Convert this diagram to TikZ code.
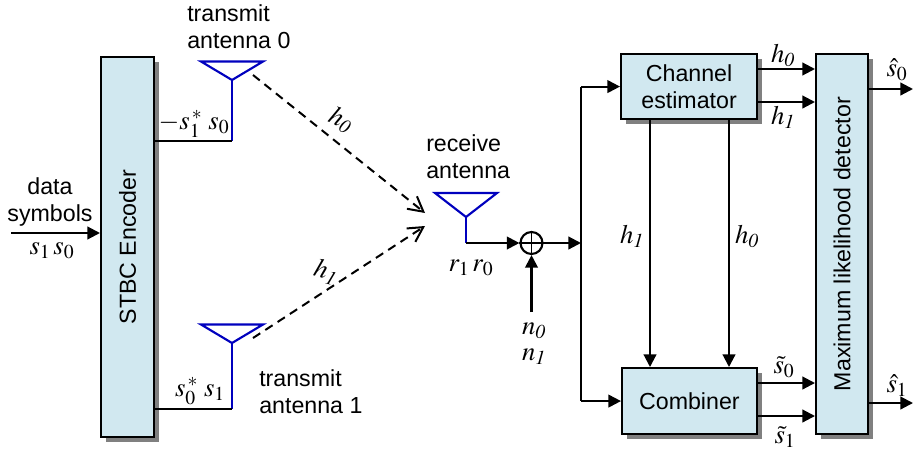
\documentclass[tikz,border=0pt]{standalone}
\usepackage{mathptmx}
\usepackage{fontspec}
\setmainfont{Liberation Sans}
\usetikzlibrary{arrows.meta,shadows}

\definecolor{boxfill}{RGB}{209,232,240}
\definecolor{antblue}{RGB}{0,0,190}

\begin{document}
\begin{tikzpicture}[
  x=0.75pt, y=-0.75pt,
  every node/.style={font=\fontsize{17.4}{20.5}\selectfont, align=center, inner sep=0pt},
  block/.style={draw=black, line width=1.6pt, fill=boxfill, anchor=north west,
    copy shadow={shadow xshift=4pt, shadow yshift=-4pt, draw=none, fill=black!50}},
  tag/.style={anchor=west, align=left},
  sym/.style={font=\fontsize{20}{24}\selectfont},
  line/.style={draw=black, line width=1.6pt},
  arrow/.style={line, -{Triangle[length=9.5pt,width=9.5pt]}},
  air/.style={draw=black, line width=1.5pt, dash pattern=on 6.5pt off 4.5pt, -{Straight Barb[length=11pt,width=12pt]}},
  antenna/.style={draw=antblue, line width=1.6pt, line join=miter}
]
\useasboundingbox (0,0) rectangle (913,450);

% blocks
\node[block, minimum width=39.75pt, minimum height=285pt] (stbc) at (100,56) {};
\node[rotate=90] (stbclabel) at (stbc.center) {STBC Encoder};
\node[block, minimum width=102pt, minimum height=48.75pt] (est) at (620,53) {Channel\\estimator};
\node[block, minimum width=101pt, minimum height=49.5pt] (comb) at (621,367) {Combiner};
\node[block, minimum width=39pt, minimum height=285pt] (mld) at (815,53) {};
\node[rotate=90] (mldlabel) at (mld.center) {Maximum likelihood detector};

% antennas
\coordinate (ant0) at (232,80);
\coordinate (ant0foot) at (232,141);
\coordinate (ant1) at (232,343);
\coordinate (ant1foot) at (232,409);
\coordinate (rx) at (466,217);
\coordinate (rxfoot) at (466,243);
\foreach \a/\foot/\d in {ant0/ant0foot/18.5, ant1/ant1foot/18.5, rx/rxfoot/24} {
  \draw[antenna] (\a) -- ++(-31,-\d) -- ++(62,0) -- cycle;
  \draw[antenna] (\a) -- (\foot);
}
\draw[line] (stbc.east |- ant0foot) -- (ant0foot);
\draw[line] (stbc.east |- ant1foot) -- (ant1foot);

% adder
\node[circle, draw=black, line width=1.6pt, minimum size=16.5pt] (add) at (531.5,243) {};
\draw[line width=1pt] (add.north) -- (add.south) (add.west) -- (add.east);

% free ends
\coordinate (in) at (11,233);
\coordinate (noise) at (531.5,312);
\coordinate (tee) at (581,243);
\coordinate (air0) at (253,75);
\coordinate (air1) at (253,338);
\coordinate (rx0) at (425,213);
\coordinate (rx1) at (425,226);
\coordinate (out0) at (913,89);
\coordinate (out1) at (913,403);

% connectors
\draw[arrow] (in) -- (in -| stbc.west);
\draw[air] (air0) -- (rx0);
\draw[air] (air1) -- (rx1);
\draw[arrow] (rxfoot) -- (add.west);
\draw[arrow] (noise) -- (add.south);
\draw[arrow] (add.east) -- (tee);
\draw[arrow] (tee |- est.west) -- (est.west);
\draw[arrow] (tee |- comb.west) -- (comb.west);
\draw[line] (tee |- est.west) -- (tee |- comb.west);
\draw[arrow] (est.south -| 650,0) -- (comb.north -| 650,0);
\draw[arrow] (est.south -| 729,0) -- (comb.north -| 729,0);
\draw[arrow] (est.east |- 0,69) -- (mld.west |- 0,69);
\draw[arrow] (est.east |- 0,102) -- (mld.west |- 0,102);
\draw[arrow] (comb.east |- 0,383) -- (mld.west |- 0,383);
\draw[arrow] (comb.east |- 0,416) -- (mld.west |- 0,416);
\draw[arrow] (mld.east |- out0) -- (out0);
\draw[arrow] (mld.east |- out1) -- (out1);

% labels
\node (datalabel) at (50,202) {data\\symbols};
\node[tag] (tx0label) at (187,27) {transmit\\antenna 0};
\node[tag] (tx1label) at (259,392) {transmit\\antenna 1};
\node[tag] (rxlabel) at (426,157) {receive\\antenna};
\node[sym] (insym) at (52,251) {$s_1\,s_0$};
\node[sym] (s0sym) at (194,124) {$-s_1^{\,*}\;s_0$};
\node[sym] (s1sym) at (200,391) {$s_0^{\,*}\;s_1$};
\node[sym, rotate=-25] (h0air) at (341,120) {$h_{\mathit{0}}$};
\node[sym, rotate=-15] (h1air) at (326,272) {$h_{\mathit{1}}$};
\node[sym] (rxsym) at (471,268) {$r_1\,r_0$};
\node[sym] (n0sym) at (534,331) {$n_{\mathit{0}}$};
\node[sym] (n1sym) at (534,357) {$n_{\mathit{1}}$};
\node[sym] (h1mid) at (632,236) {$h_{\mathit{1}}$};
\node[sym] (h0mid) at (747,236) {$h_{\mathit{0}}$};
\node[sym] (h0top) at (783,55) {$h_{\mathit{0}}$};
\node[sym] (h1top) at (783,117) {$h_{\mathit{1}}$};
\node[sym] (s0tilde) at (784,367) {$\tilde{s}_0$};
\node[sym] (s1tilde) at (785,437) {$\tilde{s}_1$};
\node[sym] (s0hat) at (897,70) {$\hat{s}_0$};
\node[sym] (s1hat) at (897,386) {$\hat{s}_1$};

\end{tikzpicture}
\end{document}
